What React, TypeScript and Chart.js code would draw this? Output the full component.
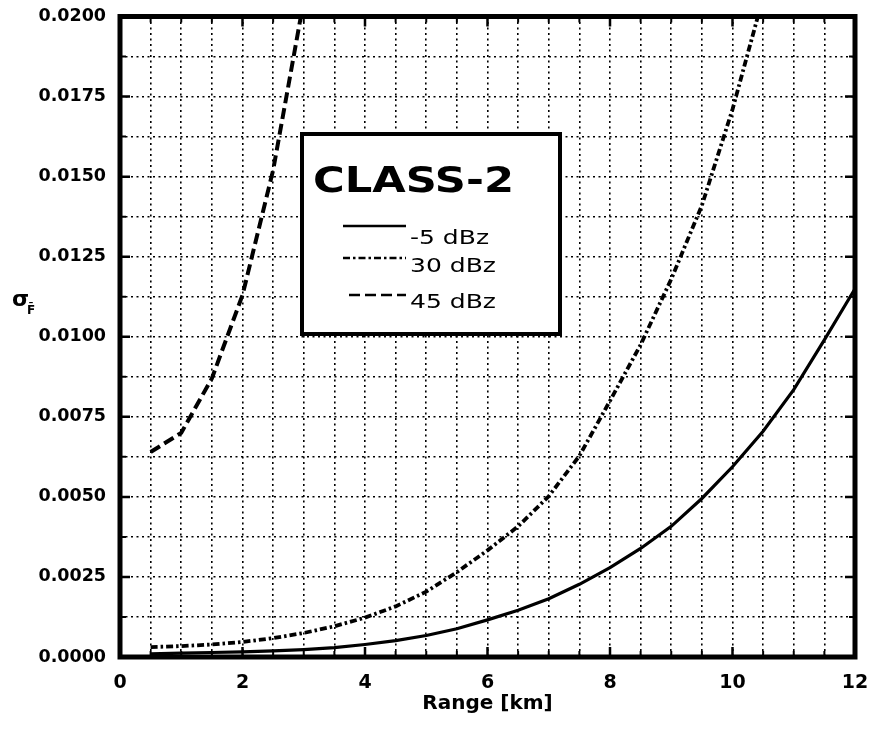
import { useEffect, useRef } from "react";
import { Chart, registerables } from "chart.js";

Chart.register(...registerables);

// Range samples (km) shared by all three curves
const rangeKm = [
  0.5, 1, 1.5, 2, 2.5, 3, 3.5, 4, 4.5, 5, 5.5, 6,
  6.5, 7, 7.5, 8, 8.5, 9, 9.5, 10, 10.5, 11, 11.5, 12,
];

// sigma_F for reflectivity -5 dBz
const sigmaMinus5 = [
  0.0001, 0.00012, 0.00014, 0.00016, 0.00019, 0.00023, 0.00029, 0.00039,
  0.00051, 0.00067, 0.00088, 0.00116, 0.00146, 0.00182, 0.00227, 0.00279,
  0.00339, 0.00408, 0.00495, 0.00594, 0.00705, 0.00835, 0.0099, 0.0115,
];

// sigma_F for reflectivity 30 dBz
const sigma30 = [
  0.00031, 0.00034, 0.00039, 0.00047, 0.00059, 0.00075, 0.00096, 0.00123,
  0.00158, 0.00204, 0.00265, 0.00333, 0.00408, 0.00502, 0.00628, 0.008,
  0.00975, 0.0118, 0.0141, 0.0171, 0.0206,
];

// sigma_F for reflectivity 45 dBz
const sigma45 = [0.0064, 0.007, 0.0087, 0.0113, 0.0152, 0.0205];

const xTickLabels = [0, 2, 4, 6, 8, 10, 12];
const yTickLabels = [
  "0.0000", "0.0025", "0.0050", "0.0075", "0.0100",
  "0.0125", "0.0150", "0.0175", "0.0200",
];
const legendTitle = "CLASS-2";
const legendLabels = ["-5 dBz", "30 dBz", "45 dBz"];
const xAxisTitle = "Range [km]";

const Y_STEP = 0.00125;
const FONT = "'DejaVu Sans', sans-serif";

const solidDash: number[] = [];
const dashDot = [7, 3, 2.5, 3];
const dashed = [11, 5];

function toPoints(values: number[]) {
  return values.map((y, i) => ({ x: rangeKm[i], y }));
}

function stretchedText(
  ctx: CanvasRenderingContext2D,
  text: string,
  x: number,
  y: number,
  font: string,
  sx: number
) {
  ctx.save();
  ctx.font = font;
  ctx.textAlign = "left";
  ctx.textBaseline = "alphabetic";
  ctx.fillStyle = "#000";
  ctx.translate(x, y);
  ctx.scale(sx, 1);
  ctx.fillText(text, 0, 0);
  ctx.restore();
}

// Frame, inward tick marks, boxed legend and the y-axis symbol
const decorations = {
  id: "decorations",
  afterDraw(chart: any) {
    const { ctx, chartArea } = chart;
    const { left, right, top, bottom } = chartArea;
    const xs = chart.scales.x;
    const ys = chart.scales.y;
    ctx.save();
    ctx.strokeStyle = "#000";
    ctx.setLineDash([]);

    // inward ticks
    for (let k = 1; k < 24; k++) {
      const v = k * 0.5;
      const px = xs.getPixelForValue(v);
      const major = v % 2 === 0;
      const len = major ? 10 : 6;
      ctx.lineWidth = major ? 2.5 : 2;
      ctx.beginPath();
      ctx.moveTo(px, bottom);
      ctx.lineTo(px, bottom - len);
      ctx.moveTo(px, top);
      ctx.lineTo(px, top + len);
      ctx.stroke();
    }
    for (let k = 1; k < 16; k++) {
      const py = ys.getPixelForValue(k * Y_STEP);
      const major = k % 2 === 0;
      const len = major ? 10 : 6;
      ctx.lineWidth = major ? 2.5 : 2;
      ctx.beginPath();
      ctx.moveTo(left, py);
      ctx.lineTo(left + len, py);
      ctx.moveTo(right, py);
      ctx.lineTo(right - len, py);
      ctx.stroke();
    }

    // heavy frame
    ctx.lineWidth = 5;
    ctx.strokeRect(left, top, right - left, bottom - top);

    // legend box
    ctx.fillStyle = "#fff";
    ctx.fillRect(300, 132, 262, 204);
    ctx.lineWidth = 4;
    ctx.strokeRect(302, 134, 258, 200);

    stretchedText(ctx, legendTitle, 313, 192, `bold 36px ${FONT}`, 1.2);

    const samples = [
      { dash: solidDash, y: 226, x0: 343, text: 244 },
      { dash: dashDot, y: 258, x0: 343, text: 272 },
      { dash: dashed, y: 295, x0: 349, text: 308 },
    ];
    samples.forEach((s, i) => {
      ctx.save();
      ctx.lineWidth = 2.5;
      ctx.setLineDash(s.dash);
      ctx.beginPath();
      ctx.moveTo(s.x0, s.y);
      ctx.lineTo(406, s.y);
      ctx.stroke();
      ctx.restore();
      stretchedText(ctx, legendLabels[i], 410, s.text, `20px ${FONT}`, 1.25);
    });

    // y-axis symbol: sigma with subscript F-bar
    ctx.fillStyle = "#000";
    ctx.textAlign = "left";
    ctx.textBaseline = "alphabetic";
    ctx.font = `bold 22px ${FONT}`;
    ctx.fillText("σ", 12, 306);
    ctx.font = `bold 12px ${FONT}`;
    ctx.fillText("F\u0304", 27, 314);

    ctx.restore();
  },
};

export default function App() {
  const canvasRef = useRef<HTMLCanvasElement | null>(null);

  useEffect(() => {
    const canvas = canvasRef.current;
    if (!canvas) return;
    const chart = new Chart(canvas, {
      type: "line",
      data: {
        datasets: [
          {
            label: legendLabels[0],
            data: toPoints(sigmaMinus5),
            borderColor: "#000",
            borderWidth: 3.2,
            borderDash: solidDash,
            pointRadius: 0,
            tension: 0,
          },
          {
            label: legendLabels[1],
            data: toPoints(sigma30),
            borderColor: "#000",
            borderWidth: 3.8,
            borderDash: dashDot,
            pointRadius: 0,
            tension: 0,
          },
          {
            label: legendLabels[2],
            data: toPoints(sigma45),
            borderColor: "#000",
            borderWidth: 4,
            borderDash: dashed,
            pointRadius: 0,
            tension: 0,
          },
        ],
      },
      options: {
        animation: false,
        responsive: false,
        devicePixelRatio: 1,
        layout: { padding: { left: 0, right: 14, top: 16.5, bottom: 0 } },
        plugins: {
          legend: { display: false },
          tooltip: { enabled: false },
        },
        scales: {
          x: {
            type: "linear",
            min: 0,
            max: 12,
            afterFit(scale: any) {
              scale.height = 74;
              scale.paddingLeft = 0;
              scale.paddingRight = 0;
            },
            border: { display: false, dash: [2, 3.5] },
            grid: {
              color: "#000",
              lineWidth: 1.6,
              drawTicks: false,
            },
            ticks: {
              stepSize: 0.5,
              autoSkip: false,
              maxRotation: 0,
              padding: 15,
              color: "#000",
              font: { family: FONT, size: 19, weight: "bold" },
              callback: (v: any) =>
                xTickLabels.includes(Number(v)) ? String(v) : "",
            },
            title: {
              display: true,
              text: xAxisTitle,
              color: "#000",
              font: { family: FONT, size: 20, weight: "bold" },
              padding: { top: 0, bottom: 15 },
            },
          },
          y: {
            type: "linear",
            min: 0,
            max: 0.02,
            afterFit(scale: any) {
              scale.width = 120;
              scale.paddingTop = 0;
              scale.paddingBottom = 0;
            },
            border: { display: false, dash: [2, 3.5] },
            grid: {
              color: "#000",
              lineWidth: 1.6,
              drawTicks: false,
            },
            ticks: {
              stepSize: Y_STEP,
              autoSkip: false,
              padding: 14,
              color: "#000",
              font: { family: FONT, size: 17.5, weight: "bold" },
              callback: (v: any) => {
                const k = Math.round(Number(v) / Y_STEP);
                return k % 2 === 0 ? yTickLabels[k / 2] : "";
              },
            },
          },
        },
      } as any,
      plugins: [decorations],
    });
    return () => chart.destroy();
  }, []);

  return (
    <div
      style={{
        position: "fixed",
        left: 0,
        top: 0,
        width: 869,
        height: 731,
        background: "#fff",
      }}
    >
      <canvas
        ref={canvasRef}
        width={869}
        height={731}
        style={{ display: "block", width: 869, height: 731 }}
      />
    </div>
  );
}
